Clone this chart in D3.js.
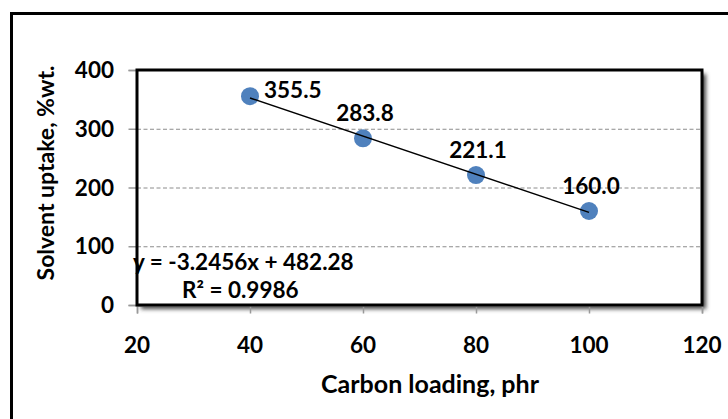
<!DOCTYPE html>
<html>
<head>
<meta charset="utf-8">
<script src="https://cdn.jsdelivr.net/npm/d3@7"></script>
<style>
  html, body { margin: 0; padding: 0; background: #fff; }
  svg text { font-family: Lato, "Open Sans", sans-serif; font-weight: bold; fill: #000; }
</style>
</head>
<body>
<svg id="chart" width="728" height="419"></svg>
<script>
// Solvent uptake vs carbon loading, with linear trendline

// data
var carbonLoading = [40, 60, 80, 100];
var solventUptake = [355.5, 283.8, 221.1, 160.0];
var labelPlacement = ["right", "above", "above", "above"];
var xTicks = [20, 40, 60, 80, 100, 120];
var yTicks = [0, 100, 200, 300, 400];
var trendSlope = -3.2456;
var trendIntercept = 482.28;
var equationText = "y = -3.2456x + 482.28";
var r2Text = "R² = 0.9986";

var svg = d3.select("#chart");

// outer chart frame (runs off the right/bottom edge)
svg.append("rect")
    .attr("x", 11.5).attr("y", 13.5)
    .attr("width", 800).attr("height", 500)
    .style("fill", "#fff")
    .style("stroke", "#000")
    .style("stroke-width", 3);

var plot = { left: 137, top: 70, right: 702, bottom: 305 };

var xScale = d3.scaleLinear().domain([20, 120]).range([plot.left, plot.right]);
var yScale = d3.scaleLinear().domain([0, 400]).range([plot.bottom, plot.top]);

// shadow behind plot area
var defs = svg.append("defs");
defs.append("filter").attr("id", "blur")
    .attr("x", "-10%").attr("y", "-10%").attr("width", "120%").attr("height", "120%")
    .append("feGaussianBlur").attr("stdDeviation", 2);

svg.append("rect")
    .attr("x", plot.left + 4).attr("y", plot.top + 4)
    .attr("width", plot.right - plot.left).attr("height", plot.bottom - plot.top)
    .style("fill", "#444")
    .attr("filter", "url(#blur)");

svg.append("rect")
    .attr("x", plot.left).attr("y", plot.top)
    .attr("width", plot.right - plot.left).attr("height", plot.bottom - plot.top)
    .style("fill", "#fff");

// dashed gridlines
svg.append("g").selectAll("line")
    .data(yTicks.filter(function(d) { return d > 0 && d < 400; }))
    .enter().append("line")
    .attr("x1", plot.left).attr("x2", plot.right)
    .attr("y1", function(d) { return yScale(d) + 0.5; })
    .attr("y2", function(d) { return yScale(d) + 0.5; })
    .style("stroke", "#8c8c8c")
    .style("stroke-width", 1)
    .style("stroke-dasharray", "4,2.5");

// axes (grey lines with outside ticks)
var yAxis = d3.axisLeft(yScale).tickValues(yTicks).tickSize(8).tickFormat("");
var xAxis = d3.axisBottom(xScale).tickValues(xTicks).tickSize(8).tickFormat("");

svg.append("g")
    .attr("transform", "translate(" + (plot.left - 0.5) + ",0)")
    .call(yAxis)
    .call(function(g) { g.selectAll("line, path").style("stroke", "#999").style("stroke-width", 1.5); });

svg.append("g")
    .attr("transform", "translate(0," + (plot.bottom + 0.5) + ")")
    .call(xAxis)
    .call(function(g) { g.selectAll("line, path").style("stroke", "#999").style("stroke-width", 1.5); });

// plot border
svg.append("rect")
    .attr("x", plot.left).attr("y", plot.top)
    .attr("width", plot.right - plot.left).attr("height", plot.bottom - plot.top)
    .style("fill", "none")
    .style("stroke", "#000")
    .style("stroke-width", 3);

// tick labels
svg.append("g").selectAll("text")
    .data(yTicks)
    .enter().append("text")
    .attr("x", 114)
    .attr("y", function(d) { return yScale(d) + 8; })
    .attr("text-anchor", "end")
    .style("font-size", "22.5px")
    .text(function(d) { return d; });

svg.append("g").selectAll("text")
    .data(xTicks)
    .enter().append("text")
    .attr("x", function(d) { return xScale(d); })
    .attr("y", 353)
    .attr("text-anchor", "middle")
    .style("font-size", "22.5px")
    .text(function(d) { return d; });

// axis titles
svg.append("text")
    .attr("transform", "translate(54,173) rotate(-90)")
    .attr("text-anchor", "middle")
    .style("font-size", "23px")
    .text("Solvent uptake, %wt.");

svg.append("text")
    .attr("x", 430).attr("y", 393)
    .attr("text-anchor", "middle")
    .style("font-size", "25px")
    .text("Carbon loading, phr");

// points
var points = carbonLoading.map(function(x, i) {
    return { x: x, y: solventUptake[i], pos: labelPlacement[i] };
});

svg.append("g").selectAll("circle")
    .data(points)
    .enter().append("circle")
    .attr("cx", function(d) { return xScale(d.x); })
    .attr("cy", function(d) { return yScale(d.y); })
    .attr("r", 9)
    .style("fill", "#4f81bd");

// linear trendline
var xMin = d3.min(carbonLoading), xMax = d3.max(carbonLoading);
svg.append("line")
    .attr("x1", xScale(xMin)).attr("y1", yScale(trendSlope * xMin + trendIntercept))
    .attr("x2", xScale(xMax)).attr("y2", yScale(trendSlope * xMax + trendIntercept))
    .style("stroke", "#000")
    .style("stroke-width", 1.5);

// data labels
svg.append("g").selectAll("text")
    .data(points)
    .enter().append("text")
    .attr("x", function(d) { return d.pos === "right" ? xScale(d.x) + 14 : xScale(d.x) + 2; })
    .attr("y", function(d) { return d.pos === "right" ? yScale(d.y) + 2 : yScale(d.y) - 17; })
    .attr("text-anchor", function(d) { return d.pos === "right" ? "start" : "middle"; })
    .style("font-size", "22.5px")
    .text(function(d) { return d.y.toFixed(1); });

// equation and R²
svg.append("text")
    .attr("x", 133).attr("y", 270)
    .style("font-size", "22.5px")
    .text(equationText);

svg.append("text")
    .attr("x", 182).attr("y", 298)
    .style("font-size", "22.5px")
    .text(r2Text);
</script>
</body>
</html>
